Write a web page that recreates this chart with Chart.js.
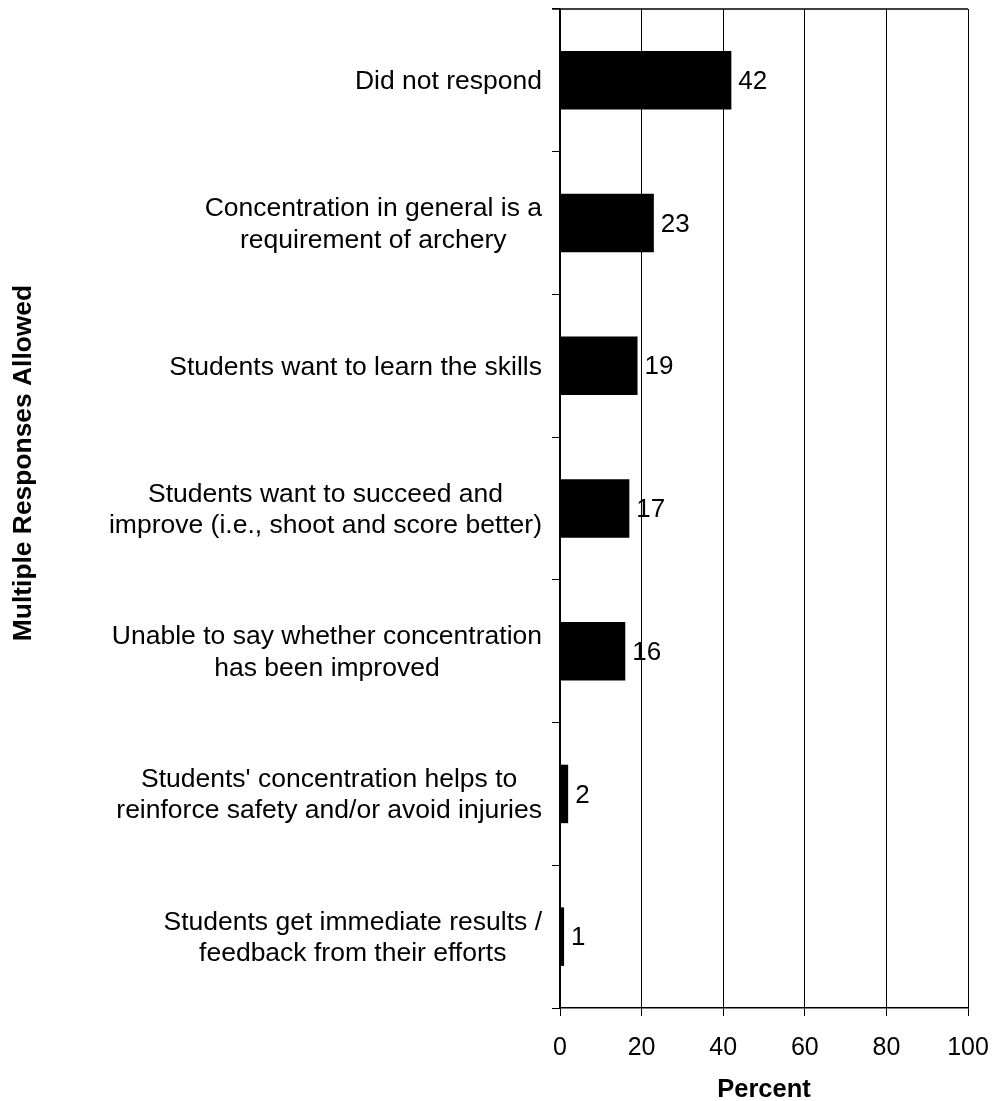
<!DOCTYPE html>
<html>
<head>
<meta charset="utf-8">
<script src="https://cdn.jsdelivr.net/npm/chart.js@4/dist/chart.umd.min.js"></script>
<style>
  html, body { margin: 0; padding: 0; background: #fff; }
  canvas { display: block; }
</style>
</head>
<body>
<canvas id="c" width="992" height="1101"></canvas>
<script>
const categories = [
  ["Did not respond"],
  ["Concentration in general is a", "requirement of archery"],
  ["Students want to learn the skills"],
  ["Students want to succeed and", "improve (i.e., shoot and score better)"],
  ["Unable to say whether concentration", "has been improved"],
  ["Students' concentration helps to", "reinforce safety and/or avoid injuries"],
  ["Students get immediate results /", "feedback from their efforts"]
];
const values = [42, 23, 19, 17, 16, 2, 1];
const xTickValues = [0, 20, 40, 60, 80, 100];
const xTitle = "Percent";
const yTitle = "Multiple Responses Allowed";

const FONT = "'Liberation Sans', Arial, Helvetica, sans-serif";

const customText = {
  id: 'customText',
  afterDraw(chart) {
    const ctx = chart.ctx;
    const area = chart.chartArea;
    const yScale = chart.scales.y;
    ctx.save();
    // top border
    ctx.strokeStyle = '#000';
    ctx.lineWidth = 1.5;
    ctx.beginPath();
    ctx.moveTo(area.left - 8, area.top);
    ctx.lineTo(area.right, area.top);
    ctx.stroke();

    // category labels: block right-aligned, lines centered
    ctx.fillStyle = '#000';
    ctx.font = '26.5px ' + FONT;
    ctx.textBaseline = 'middle';
    ctx.textAlign = 'center';
    const blockRight = area.left - 18;
    const lh = 31.5;
    categories.forEach((lines, i) => {
      const yc = yScale.getPixelForTick(i) + 1.5;
      const maxW = Math.max(...lines.map(l => ctx.measureText(l).width));
      const cx = blockRight - maxW / 2;
      const n = lines.length;
      lines.forEach((l, j) => {
        ctx.fillText(l, cx, yc + (j - (n - 1) / 2) * lh);
      });
    });

    // value labels
    ctx.font = '26px ' + FONT;
    ctx.textAlign = 'left';
    const meta = chart.getDatasetMeta(0);
    meta.data.forEach((bar, i) => {
      ctx.fillText(String(values[i]), bar.x + 7, bar.y + 1.5);
    });

    // y axis title
    ctx.font = 'bold 26.4px ' + FONT;
    ctx.textAlign = 'center';
    ctx.textBaseline = 'alphabetic';
    ctx.translate(31, 463);
    ctx.rotate(-Math.PI / 2);
    ctx.fillText(yTitle, 0, 0);
    ctx.restore();
  }
};

new Chart(document.getElementById('c'), {
  type: 'bar',
  data: {
    labels: categories,
    datasets: [{
      data: values,
      backgroundColor: '#000',
      borderWidth: 0,
      barPercentage: 0.41,
      categoryPercentage: 1.0
    }]
  },
  options: {
    indexAxis: 'y',
    responsive: false,
    animation: false,
    layout: { padding: { top: 9, right: 24, left: 0, bottom: 0 } },
    plugins: {
      legend: { display: false },
      tooltip: { enabled: false },
      title: { display: false }
    },
    scales: {
      x: {
        min: 0,
        max: 100,
        afterBuildTicks(scale) {
          scale.ticks = xTickValues.map(v => ({ value: v }));
        },
        afterFit(scale) {
          scale.height = 93;
          scale.paddingLeft = 0;
          scale.paddingRight = 0;
        },
        grid: {
          color: '#000',
          lineWidth: 1,
          drawTicks: true,
          tickLength: 8,
          tickColor: '#000'
        },
        border: { display: true, color: '#000', width: 1.5 },
        ticks: {
          color: '#000',
          font: { family: FONT, size: 25 },
          padding: 17,
          maxRotation: 0,
          autoSkip: false
        },
        title: {
          display: true,
          text: xTitle,
          color: '#000',
          font: { family: FONT, size: 25.5, weight: 'bold', lineHeight: 0.85 },
          padding: { top: 0, bottom: 0 }
        }
      },
      y: {
        offset: true,
        afterFit(scale) {
          scale.width = 560;
          scale.paddingTop = 0;
          scale.paddingBottom = 0;
        },
        grid: {
          offset: true,
          drawOnChartArea: false,
          drawTicks: true,
          tickLength: 8,
          color: '#000',
          tickColor: '#000',
          lineWidth: 1
        },
        border: { display: true, color: '#000', width: 1.5 },
        ticks: {
          display: false,
          autoSkip: false
        }
      }
    }
  },
  plugins: [customText]
});
</script>
</body>
</html>
